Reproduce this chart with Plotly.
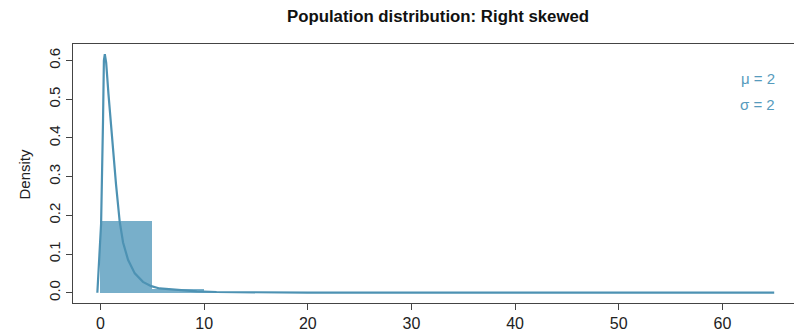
import plotly.graph_objects as go

# Histogram bins (left edges, width 5) and densities
bin_left = [0, 5, 10]
bin_density = [0.186, 0.009, 0.0015]
bin_width = 5

# Density curve
curve_x = [-0.3, 0.06, 0.25, 0.33, 0.42, 0.55, 0.77, 1.16, 1.5, 1.85, 2.18, 2.66,
           3.31, 4.1, 4.9, 5.7, 7.3, 9.3, 11.2, 14, 20, 30, 40, 50, 65]
curve_y = [0.0, 0.178, 0.45, 0.60, 0.617, 0.595, 0.514, 0.385, 0.28, 0.185, 0.13, 0.085,
           0.05, 0.028, 0.017, 0.011, 0.007, 0.0035, 0.0018, 0.0008, 0.0002, 0.0, 0.0, 0.0, 0.0]

x_ticks = [0, 10, 20, 30, 40, 50, 60]
y_ticks = [0.0, 0.1, 0.2, 0.3, 0.4, 0.5, 0.6]

COL = "#569BBD"
FONT = "Liberation Sans, Arial, sans-serif"

fig = go.Figure()
fig.add_trace(go.Bar(
    x=[b + bin_width / 2 for b in bin_left], y=bin_density, width=bin_width,
    marker=dict(color="rgba(86,155,189,0.8)", line=dict(width=0)),
    hoverinfo="skip", showlegend=False))
fig.add_trace(go.Scatter(
    x=curve_x, y=curve_y, mode="lines",
    line=dict(color="#4d92b3", width=2.2), showlegend=False))

fig.add_annotation(xref="paper", yref="paper", x=0.972, y=0.868, xanchor="right", yanchor="middle",
                   text="μ = 2", showarrow=False, font=dict(family=FONT, size=15, color=COL))
fig.add_annotation(xref="paper", yref="paper", x=0.972, y=0.768, xanchor="right", yanchor="middle",
                   text="σ = 2", showarrow=False, font=dict(family=FONT, size=15, color=COL))
fig.add_annotation(xref="paper", yref="paper", x=-0.0663, y=0.5, xanchor="center", yanchor="middle",
                   text="Density", textangle=-90, showarrow=False,
                   font=dict(family=FONT, size=15, color="#222"))

fig.update_layout(
    width=794, height=328,
    margin=dict(l=65, r=5, t=36, b=33, autoexpand=False),
    paper_bgcolor="white", plot_bgcolor="white",
    bargap=0,
    font=dict(family=FONT, size=14, color="#222"),
    title=dict(text="<b>Population distribution: Right skewed</b>", x=0.5416, xanchor="center",
               y=0.974, yanchor="middle", font=dict(family=FONT, size=16.8, color="#111")),
    xaxis=dict(range=[-2.65, 67.2], tickvals=x_ticks, ticks="outside", ticklen=6,
               tickcolor="#444", showgrid=False, zeroline=False, showline=True,
               linecolor="#444", linewidth=1, mirror=True, automargin=False,
               tickfont=dict(family=FONT, size=16, color="#222")),
    yaxis=dict(range=[-0.0266, 0.643], tickvals=y_ticks, tickformat=".1f", ticks="outside",
               ticklen=6, tickcolor="#444", showgrid=False, zeroline=False, showline=True,
               linecolor="#444", linewidth=1, mirror=True, tickangle=-90, automargin=False,
               tickfont=dict(family=FONT, size=15, color="#222")),
)

fig.write_html("out.html")
